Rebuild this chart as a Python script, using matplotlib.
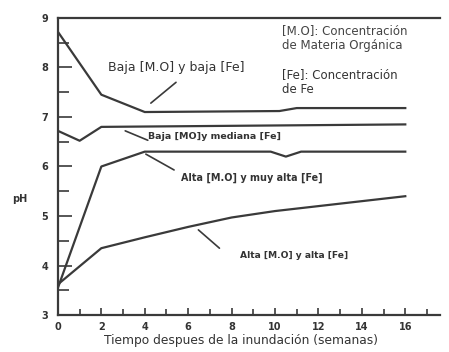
import matplotlib.pyplot as plt
from matplotlib.ticker import MultipleLocator

# pH vs time after flooding (weeks)
weeks_baja_baja = [0, 2, 4, 10.2, 11, 16]
ph_baja_baja = [8.72, 7.45, 7.1, 7.12, 7.18, 7.18]

weeks_baja_mediana = [0, 1, 2, 16]
ph_baja_mediana = [6.72, 6.52, 6.8, 6.85]

weeks_alta_muyalta = [0, 2, 4, 9.8, 10.5, 11.2, 16]
ph_alta_muyalta = [3.55, 6.0, 6.3, 6.3, 6.2, 6.3, 6.3]

weeks_alta_alta = [0, 2, 4, 6, 8, 10, 12, 14, 16]
ph_alta_alta = [3.62, 4.35, 4.57, 4.78, 4.97, 5.1, 5.2, 5.3, 5.4]

xticks = [0, 2, 4, 6, 8, 10, 12, 14, 16]
yticks = [3, 4, 5, 6, 7, 8, 9]

col = "#3a3a3a"
tcol = "#333333"
fig = plt.figure(figsize=(4.49, 3.52), dpi=100)
ax = fig.add_axes([0.129, 0.105, 0.851, 0.844])

for x, y in [(weeks_baja_baja, ph_baja_baja), (weeks_baja_mediana, ph_baja_mediana),
             (weeks_alta_muyalta, ph_alta_muyalta), (weeks_alta_alta, ph_alta_alta)]:
    ax.plot(x, y, color=col, lw=1.6)

ax.set_xlim(0, 17.6)
ax.set_ylim(3, 9)
ax.set_xticks(xticks)
ax.set_yticks(yticks)
ax.xaxis.set_minor_locator(MultipleLocator(1))
ax.yaxis.set_minor_locator(MultipleLocator(0.5))
ax.tick_params(axis="both", which="both", direction="in", color=col,
               labelcolor=tcol, labelsize=7)
ax.tick_params(axis="y", which="major", length=10, width=1.2, pad=7)
ax.tick_params(axis="y", which="minor", length=8, width=1.2)
ax.tick_params(axis="x", which="major", length=5, width=1.2, pad=5)
ax.tick_params(axis="x", which="minor", length=4, width=1.2)
for lab in ax.get_xticklabels() + ax.get_yticklabels():
    lab.set_fontweight("bold")
ax.spines["right"].set_visible(False)
for s in ["left", "bottom", "top"]:
    ax.spines[s].set_color(col)
    ax.spines[s].set_linewidth(1.6)

ax.set_ylabel("pH", rotation=0, fontsize=7, fontweight="bold", color=tcol, va="center")
ax.yaxis.set_label_coords(-0.1, 0.39)
ax.set_xlabel("Tiempo despues de la inundación (semanas)", fontsize=8.8,
              color=tcol, va="center")
ax.xaxis.set_label_coords(0.48, -0.087)

# curve labels and their leader lines
line = dict(arrowstyle="-", color=col, lw=1.2, shrinkA=0, shrinkB=0)
ax.text(2.3, 7.99, "Baja [M.O] y baja [Fe]", fontsize=9, color=tcol, va="center")
ax.annotate("", xy=(4.28, 7.28), xytext=(5.44, 7.7), arrowprops=line)

ax.text(4.15, 6.6, "Baja [MO]y mediana [Fe]", fontsize=6.8, fontweight="bold",
        color=tcol, va="center")
ax.annotate("", xy=(3.1, 6.72), xytext=(4.14, 6.53), arrowprops=line)

ax.text(5.65, 5.77, "Alta [M.O] y muy alta [Fe]", fontsize=6.9, fontweight="bold",
        color=tcol, va="center")
ax.annotate("", xy=(4.05, 6.25), xytext=(5.35, 5.93), arrowprops=line)

ax.text(8.37, 4.21, "Alta [M.O] y alta [Fe]", fontsize=6.6, fontweight="bold",
        color=tcol, va="center")
ax.annotate("", xy=(6.47, 4.72), xytext=(7.44, 4.35), arrowprops=line)

ax.text(10.3, 8.6, "[M.O]: Concentración\nde Materia Orgánica", fontsize=8.5,
        color="#444444", va="center", linespacing=1.2)
ax.text(10.3, 7.7, "[Fe]: Concentración\nde Fe", fontsize=8.5,
        color=tcol, va="center", linespacing=1.2)

fig.savefig("out.png", dpi=100)
